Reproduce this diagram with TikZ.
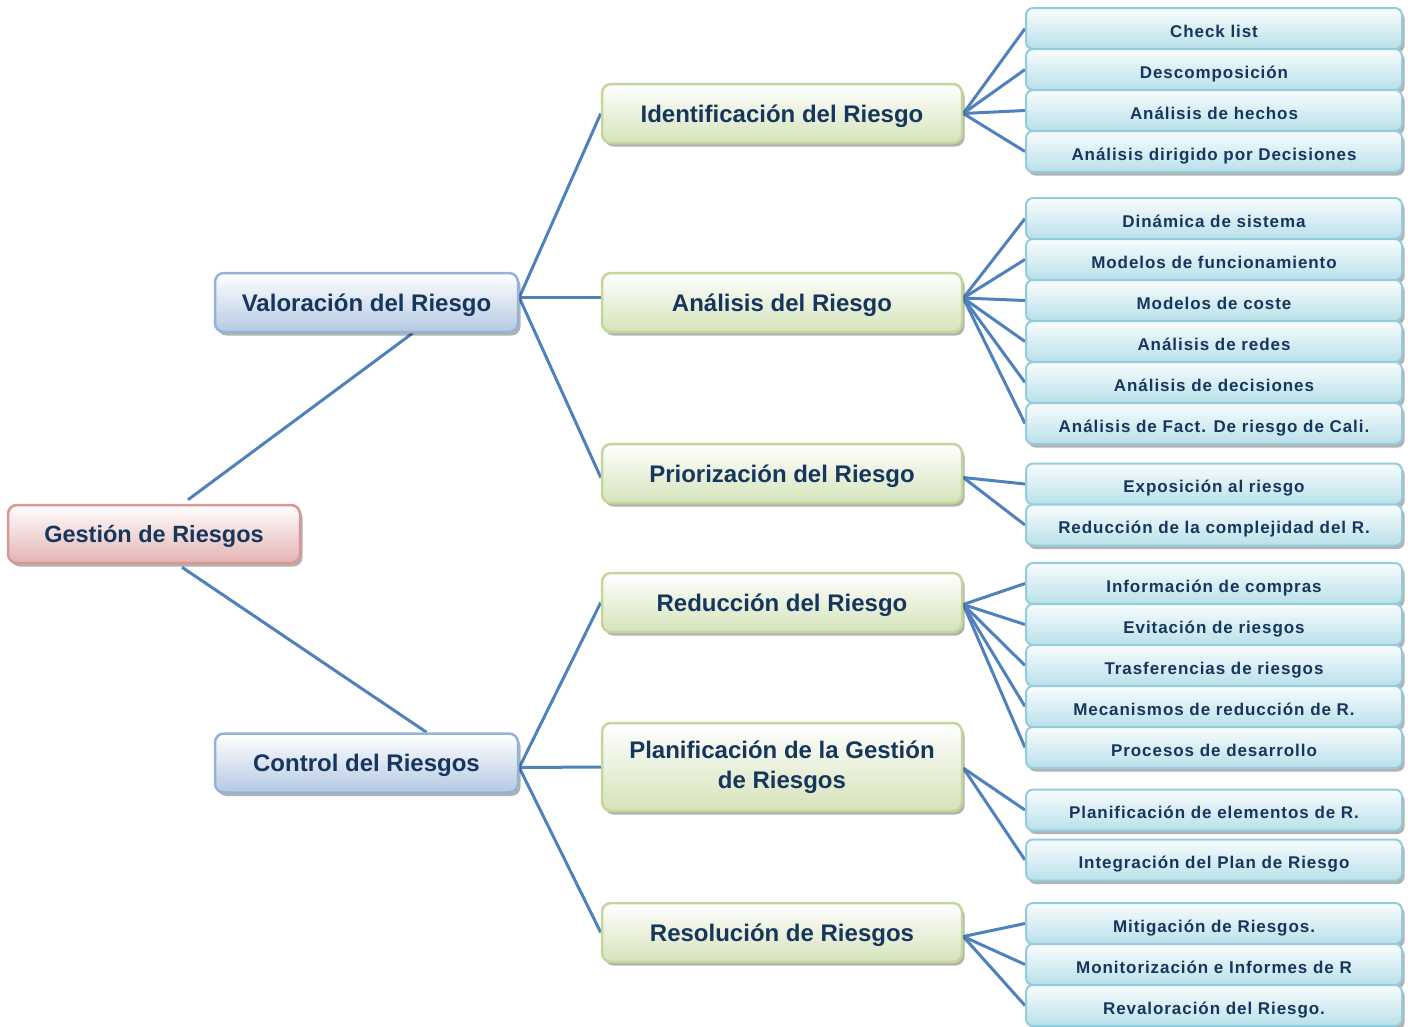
\documentclass[tikz,border=0pt]{standalone}
\usepackage{fontspec}
\setmainfont{Liberation Sans}
\newfontfamily\leaffont[LetterSpace=5.5]{Liberation Sans}
\usetikzlibrary{shadows,backgrounds,calc}

\definecolor{txt}{HTML}{17365D}
\definecolor{conncol}{HTML}{4F81BD}
\definecolor{rootline}{HTML}{D99694}
\definecolor{rootfill}{HTML}{E3B3B2}
\definecolor{blueline}{HTML}{95B3D7}
\definecolor{bluefill}{HTML}{B5C9E3}
\definecolor{greenline}{HTML}{C3D69B}
\definecolor{greenfill}{HTML}{D5E3BA}
\definecolor{leafline}{HTML}{93CDDD}
\definecolor{leaffill}{HTML}{B9E0EA}

\tikzset{
  box/.style={draw, line width=2.5pt, rounded corners=9pt, inner sep=0pt,
    text=txt, align=center, top color=white,
    drop shadow={shadow xshift=2.5pt, shadow yshift=-3.5pt, fill=black, opacity=0.3}},
  oneline/.style={text height=17.5pt, text depth=0.3pt},
  rootbox/.style={box, oneline, draw=rootline, bottom color=rootfill,
    minimum width=292pt, minimum height=58pt,
    font=\fontsize{23.5}{28}\selectfont\bfseries},
  mainbox/.style={box, oneline, draw=blueline, bottom color=bluefill,
    minimum width=303pt, minimum height=59pt,
    font=\fontsize{24}{28}\selectfont\bfseries},
  subbox/.style={box, draw=greenline, bottom color=greenfill,
    minimum width=360pt, minimum height=59pt,
    font=\fontsize{24}{30}\selectfont\bfseries},
  leafbox/.style={box, oneline, draw=leafline, bottom color=leaffill, top color=white!92!leaffill,
    line width=2pt, rounded corners=7pt,
    minimum width=376pt, minimum height=41pt,
    font=\leaffont\fontsize{17}{20}\selectfont\bfseries},
  conn/.style={draw=conncol, line width=3pt}
}

\begin{document}
\begin{tikzpicture}[x=1pt, y=-1pt]
\useasboundingbox (0,0) rectangle (1408,1026);

% root and first level
\node[rootbox] (root) at (154,534) {Gestión de Riesgos};
\node[mainbox] (val) at (366.5,302.5) {Valoración del Riesgo};
\node[mainbox] (ctrl) at (366.5,763) {Control del Riesgos};

% second level
\node[subbox, oneline] (ide) at (782,113.5) {Identificación del Riesgo};
\node[subbox, oneline] (ana) at (782,302.5) {Análisis del Riesgo};
\node[subbox, oneline] (pri) at (782,473.5) {Priorización del Riesgo};
\node[subbox, oneline] (red) at (782,602.5) {Reducción del Riesgo};
\node[subbox, minimum height=88pt] (pla) at (782,767) {Planificación de la Gestión\\de Riesgos};
\node[subbox, oneline] (res) at (782,932.5) {Resolución de Riesgos};

% leaves: identification
\node[leafbox] (i1) at (1214,28.5) {Check list};
\node[leafbox] (i2) at (1214,69.5) {Descomposición};
\node[leafbox] (i3) at (1214,110.5) {Análisis de hechos};
\node[leafbox] (i4) at (1214,151.5) {Análisis dirigido por Decisiones};

% leaves: analysis
\node[leafbox] (a1) at (1214,218.5) {Dinámica de sistema};
\node[leafbox] (a2) at (1214,259.5) {Modelos de funcionamiento};
\node[leafbox] (a3) at (1214,300.5) {Modelos de coste};
\node[leafbox] (a4) at (1214,341.5) {Análisis de redes};
\node[leafbox] (a5) at (1214,382.5) {Análisis de decisiones};
\node[leafbox] (a6) at (1214,423.5) {Análisis de Fact. De riesgo de Cali.};

% leaves: prioritisation
\node[leafbox] (p1) at (1214,484) {Exposición al riesgo};
\node[leafbox] (p2) at (1214,525) {Reducción de la complejidad del R.};

% leaves: reduction
\node[leafbox] (r1) at (1214,583.5) {Información de compras};
\node[leafbox] (r2) at (1214,624.5) {Evitación de riesgos};
\node[leafbox] (r3) at (1214,665.5) {Trasferencias de riesgos};
\node[leafbox] (r4) at (1214,706.5) {Mecanismos de reducción de R.};
\node[leafbox] (r5) at (1214,747.5) {Procesos de desarrollo};

% leaves: planning
\node[leafbox] (l1) at (1214,810) {Planificación de elementos de R.};
\node[leafbox] (l2) at (1214,860) {Integración del Plan de Riesgo};

% leaves: resolution
\node[leafbox] (s1) at (1214,923.5) {Mitigación de Riesgos.};
\node[leafbox] (s2) at (1214,964.5) {Monitorización e Informes de R};
\node[leafbox] (s3) at (1214,1005.5) {Revaloración del Riesgo.};

% fan-out points on the right edge of each parent box
\coordinate (valR) at ($(val.east)+(0,-5)$);
\coordinate (ctrlR) at ($(ctrl.east)+(0,4.5)$);
\coordinate (ideR) at (ide.east);
\coordinate (anaR) at ($(ana.east)+(0,-4.5)$);
\coordinate (priR) at ($(pri.east)+(0,4)$);
\coordinate (redR) at ($(red.east)+(0,2)$);
\coordinate (plaR) at ($(pla.east)+(0,1)$);
\coordinate (resR) at ($(res.east)+(0,4)$);

% connectors, behind the boxes
\begin{scope}[on background layer]
\draw[conn] ($(root.north)+(34,-4)$) -- ($(val.south)+(46,0)$);
\draw[conn] ($(root.south)+(28,3)$) -- ($(ctrl.north)+(60,0)$);
\draw[conn] (valR) -- (ide.west);
\draw[conn] (valR) -- ($(ana.west)+(0,-5)$);
\draw[conn] (valR) -- ($(pri.west)+(0,4)$);
\draw[conn] (ctrlR) -- (red.west);
\draw[conn] (ctrlR) -- (pla.west);
\draw[conn] (ctrlR) -- (res.west);
\foreach \t in {i1,i2,i3,i4} \draw[conn] (ideR) -- (\t.west);
\foreach \t in {a1,a2,a3,a4,a5,a6} \draw[conn] (anaR) -- (\t.west);
\foreach \t in {p1,p2} \draw[conn] (priR) -- (\t.west);
\foreach \t in {r1,r2,r3,r4,r5} \draw[conn] (redR) -- (\t.west);
\foreach \t in {l1,l2} \draw[conn] (plaR) -- (\t.west);
\foreach \t in {s1,s2,s3} \draw[conn] (resR) -- (\t.west);
\end{scope}
\end{tikzpicture}
\end{document}
